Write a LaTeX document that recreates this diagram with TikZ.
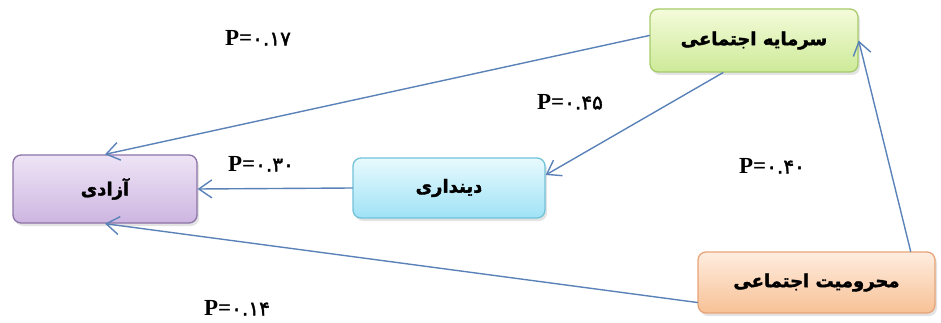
\documentclass[tikz,border=0pt]{standalone}
\usepackage{fontspec}
\setmainfont{Liberation Serif}
\newfontfamily\arabicfont[Script=Arabic,FakeBold=2]{DejaVu Sans}
\TeXXeTstate=1
\usetikzlibrary{arrows.meta,shadows}
\definecolor{linkblue}{HTML}{5A82B8}
\definecolor{socTop}{HTML}{F4FBDA}\definecolor{socBot}{HTML}{CDEA98}\definecolor{socLine}{HTML}{A6CB6A}
\definecolor{azaTop}{HTML}{EFE4F6}\definecolor{azaBot}{HTML}{CDB6E1}\definecolor{azaLine}{HTML}{8C74A8}
\definecolor{dinTop}{HTML}{E8FAFE}\definecolor{dinBot}{HTML}{9FE2F6}\definecolor{dinLine}{HTML}{72C2DA}
\definecolor{mahTop}{HTML}{FFEDE0}\definecolor{mahBot}{HTML}{F7C195}\definecolor{mahLine}{HTML}{E6A477}
\tikzstyle{every path}=[line cap=round,line join=round]
\tikzstyle{varbox}=[draw,rounded corners=8pt,line width=1.3pt,inner sep=0pt,font=\arabicfont\bfseries\fontsize{18}{20}\selectfont,drop shadow={opacity=0.22,shadow xshift=2pt,shadow yshift=-3pt}]
\tikzstyle{link}=[draw=linkblue,line width=1.4pt,-{Straight Barb[length=13pt,width=18pt,line width=1.4pt]}]
\tikzstyle{coef}=[font=\bfseries\fontsize{23}{26}\selectfont,inner sep=0pt]
\newcommand\pdigits[1]{{\arabicfont\mdseries\fontsize{20}{22}\selectfont #1}}

\begin{document}
\begin{tikzpicture}[x=1pt,y=-1pt]
%Path model of freedom
	\useasboundingbox (0,0) rectangle (941,323);
	%BOXES
	\node[varbox,top color=socTop,bottom color=socBot,draw=socLine,minimum width=208pt,minimum height=63pt] (soc) at (754,40.5) {\beginR سرمایه اجتماعی\endR}; %% social capital
	\node[varbox,top color=azaTop,bottom color=azaBot,draw=azaLine,minimum width=184pt,minimum height=68pt] (aza) at (105,189) {\beginR آزادی\endR}; %% freedom
	\node[varbox,top color=dinTop,bottom color=dinBot,draw=dinLine,minimum width=192pt,minimum height=60pt] (din) at (449,188) {\beginR دینداری\endR}; %% religiosity
	\node[varbox,top color=mahTop,bottom color=mahBot,draw=mahLine,minimum width=237pt,minimum height=61pt] (mah) at (816.5,282.5) {\beginR محرومیت اجتماعی\endR}; %% social deprivation
	% Links
	\draw[link] ([yshift=5pt]soc.west) -- (aza.north);
	\draw[link] ([xshift=-31pt]soc.south) -- ([yshift=13pt]din.east);
	\draw[link] (din.west) -- (aza.east);
	\draw[link] ([yshift=-20pt]mah.west) -- (aza.south);
	\draw[link] ([xshift=-25pt]mah.north east) -- (soc.east);
	%coefficients
	\node[coef] (p17) at (258,38) {P=\pdigits{۰.۱۷}};
	\node[coef] (p45) at (570,102) {P=\pdigits{۰.۴۵}};
	\node[coef] (p30) at (261,164) {P=\pdigits{۰.۳۰}};
	\node[coef] (p40) at (772,166) {P=\pdigits{۰.۴۰}};
	\node[coef] (p14) at (237,308) {P=\pdigits{۰.۱۴}};
\end{tikzpicture}
\end{document}
